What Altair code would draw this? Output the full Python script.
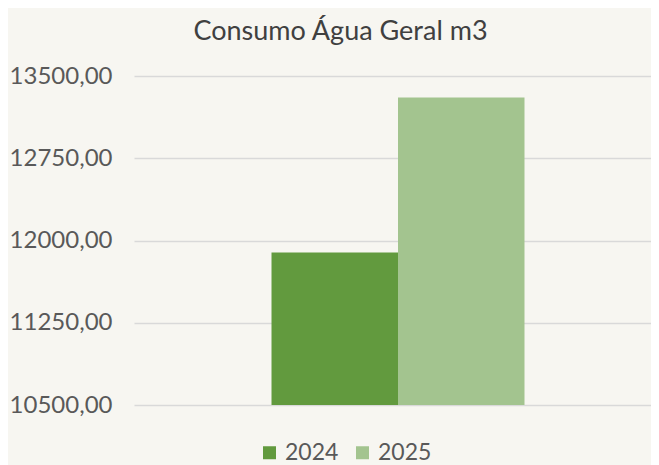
import altair as alt
import pandas as pd

years = ["2024", "2025"]
consumo = [11890, 13305]
y_ticks = [10500, 11250, 12000, 12750, 13500]
colors = ["#629A3E", "#A3C48F"]
x_slots = ["_a", "2024", "2025", "_b"]

df = pd.DataFrame({"Ano": years, "Consumo": consumo})

chart = (
    alt.Chart(df)
    .mark_bar()
    .encode(
        x=alt.X("Ano:N", axis=None,
                scale=alt.Scale(domain=x_slots, paddingInner=0,
                                paddingOuter=0.0435, align=1)),
        y=alt.Y("Consumo:Q",
                scale=alt.Scale(domain=[10500, 13500], zero=False, nice=False),
                axis=alt.Axis(values=y_ticks, title=None, ticks=False, domain=False,
                              labelExpr="replace(format(datum.value, '.2f'), '.', ',')",
                              labelFont="Lato", labelFontSize=24, labelColor="#595959",
                              labelPadding=22, gridColor="#D9D9D9", gridWidth=1.5)),
        y2=alt.datum(y_ticks[0]),
        color=alt.Color("Ano:N",
                        scale=alt.Scale(domain=years, range=colors),
                        legend=alt.Legend(title=None, orient="none", direction="horizontal",
                                          legendX=124, legendY=365, padding=0,
                                          symbolType="square", symbolSize=169,
                                          symbolStrokeWidth=0, labelFont="Lato",
                                          labelFontSize=23, labelColor="#595959",
                                          labelOffset=4, columnPadding=12)),
    )
    .properties(
        width=517,
        height=329,
        title=alt.TitleParams("Consumo Água Geral m3", font="Lato", fontSize=27,
                              fontWeight="normal", color="#404040",
                              anchor="middle", frame="group", dx=-52,
                              baseline="alphabetic", offset=-3),
        background="#F7F6F1",
        padding={"left": 126, "top": 68, "right": 0, "bottom": 60},
        autosize=alt.AutoSizeParams(type="none"),
    )
    .configure_view(stroke=None)
)

chart.save("out.html", embed_options={"renderer": "svg", "actions": False})
